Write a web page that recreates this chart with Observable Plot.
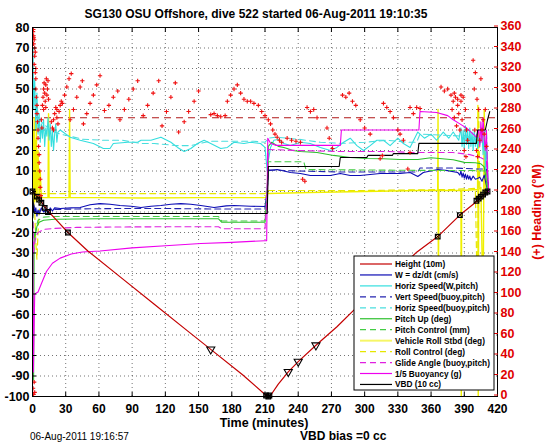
<!DOCTYPE html>
<html><head><meta charset="utf-8">
<script src="https://cdn.jsdelivr.net/npm/d3@7"></script>
<script src="https://cdn.jsdelivr.net/npm/@observablehq/plot@0.6"></script>
<style>
body{margin:0;background:#fff;}
#wrap{position:relative;width:546px;height:442px;overflow:hidden;font-family:"Liberation Sans",Arial,Helvetica,sans-serif;background:#fff;}
#wrap svg{display:block;}
#overlay{position:absolute;left:0;top:0;pointer-events:none;}
</style></head><body><div id="wrap"></div>
<script>
// ---------------- data ----------------
const titleText = "SG130 OSU Offshore, dive 522 started 06-Aug-2011 19:10:35";
const xLabel = "Time (minutes)";
const rightLabel = "(+) Heading (\u00B0M)";
const footLeft = "06-Aug-2011 19:16:57";
const footRight = "VBD bias =0 cc";
const xTicks = [0,30,60,90,120,150,180,210,240,270,300,330,360,390,420];
const yTicks = [-100,-90,-80,-70,-60,-50,-40,-30,-20,-10,0,10,20,30,40,50,60,70,80];
const headingTicks = [0,20,40,60,80,100,120,140,160,180,200,220,240,260,280,300,320,340,360];
const headingTarget = 272;

const legendLabels = ["Height (10m)","W = dz/dt (cm/s)","Horiz Speed(W,pitch)","Vert Speed(buoy,pitch)","Horiz Speed(buoy,pitch)","Pitch Up (deg)","Pitch Control (mm)","Vehicle Roll Stbd (deg)","Roll Control (deg)","Glide Angle (buoy,pitch)","1/5 Buoyancy (g)","VBD (10 cc)"];

// [time (min), value]
const height = [[0,0],[3,-1.5],[6,-3.5],[10,-6.5],[14,-9.5],[20,-13],[32,-20],[50,-29],[80,-42],[110,-55],[140,-68],[161,-77],[190,-89.5],[211,-99.5],[215,-99.5],[222,-94],[231,-88],[240,-83],[256,-75],[275,-66],[290,-58],[318,-44.5],[347,-29.6],[366,-22],[386,-11.5],[402,-4.5],[411,0]];
const heightSquares = [[0,0],[4,-2.5],[6,-4],[8,-5.5],[11,-8],[14,-10],[32,-20],[211,-99.5],[213,-100],[214,-99.5],[366,-22],[386,-11.5],[401,-4.5],[403,-3.5],[405,-2.5],[407,-1.5],[409,-0.5],[411,0]];
const heightTriangles = [[161,-77],[231,-88],[240,-83],[256,-75]];

const wSpeed = [[0,0],[0.5,-12],[1,-6],[2,-10],[3,-8],[4,-12],[5,-9],[6,-11],[8,-8],[10,-10],[12,-9],[14,-10.5],[16,-8],[18,-9.5],[20,-8],[25,-8.3],[35,-8],[43,-7.8],[52,-6.5],[61,-5.9],[70,-6.2],[79,-6.8],[89,-7.2],[98,-7.8],[107,-7.2],[116,-6.8],[125,-6.2],[134,-5.9],[143,-6.2],[152,-6.8],[164,-7.8],[175,-7.0],[182,-6.8],[197,-7.2],[210,-7.3],[212,0],[213,10.2],[221,10.7],[233,9.3],[242,8.8],[251,7.8],[260,7.8],[269,7.8],[278,8.8],[287,7.8],[296,7.8],[305,8.3],[314,8.8],[323,8.8],[332,8.8],[341,9.3],[348,7.3],[353,9.3],[366,10.7],[375,10.2],[384,9.3],[386,8],[387,10],[388,7],[389,9],[390,6.5],[391,8.5],[392,6],[393,8],[394,6],[395,7.5],[396,5.5],[398,7.5],[400,6],[402,6.3],[404,7],[406,5],[408,8],[410,3],[411,0.5]];
const horizW = [[0,35],[0.5,70],[1,40],[2,55],[3,30],[4,48],[5,28],[6,38],[7,24],[8,33],[9,26],[10,35],[11,22],[12,31],[13,27],[14,36],[15,25],[16,33],[17,22],[18,30],[19,20],[20,28],[21,33],[22,24],[23,29],[25,30],[34,26.5],[43,25],[55,23.4],[64,21],[70,21],[73,23.4],[86,24],[95,24],[98,25],[107,25],[116,26.5],[125,24],[131,21.5],[137,19.5],[143,21],[149,23.4],[155,25],[161,23.4],[170,21],[176,21.5],[182,24],[191,23.4],[197,24],[206,23.4],[210,21.5],[212,10],[213,15],[215,21.5],[218,25],[222,25.4],[227,23.4],[233,22.4],[242,24],[251,23.4],[260,21.5],[269,20],[275,21.5],[281,24],[287,26],[293,22.4],[299,20],[305,22.4],[311,25],[317,25],[323,22.4],[330,26],[335,23.4],[341,21.5],[348,29],[354,26],[360,28],[365,25],[371,29],[376,26],[380,29],[385,25],[387,31],[388,22],[389,30],[390,21],[391,32],[392,23],[393,30],[394,21],[395,31],[396,22],[397,29],[398,20],[399,30],[400,22],[401,28],[402,21],[403,26],[404,23],[405,25],[406,28],[407,18],[408,30],[409,10],[410,25],[411,5],[412,2]];
const vertBuoy = [[0,-5],[3,-10],[6,-9.5],[10,-9],[20,-8.8],[40,-8.5],[80,-8.3],[120,-8.3],[160,-8.5],[210,-8.5],[212,0],[213,10.5],[240,10],[280,9.5],[320,9.5],[348,9.5],[350,11.5],[380,11.5],[400,11],[410,11],[412,2]];
const horizBuoy = [[0,40],[3,45],[5,38],[8,34],[12,32],[16,30],[20,29],[25,28],[34,27],[45,25.5],[64,25],[81,25],[98,23.4],[110,23.4],[130,22.4],[143,22.4],[160,24.5],[180,24.5],[200,24.5],[210,24],[213,26],[220,26.5],[240,25.5],[260,24],[280,23.5],[300,24],[320,25],[340,24],[347,24],[350,28],[370,27.5],[390,27],[405,26],[410,30],[412,0]];
const pitchUp = [[0,-60],[0.5,-30],[1,-92],[1.5,-20],[2,-22],[3,-20],[4,-17],[6,-15],[10,-14],[20,-13.5],[60,-13.3],[120,-13.3],[168,-13.3],[171,-15],[210,-15],[212,0],[213,22],[216,24],[222,22],[227,21.5],[230,21],[235,20],[242,19.5],[257,19],[272,17.6],[287,16.6],[302,16.1],[317,16],[332,15.6],[348,15.6],[360,16.5],[380,15.5],[390,14.2],[400,14],[405,13.5],[408,12],[410,5],[411,0]];
const pitchCtl = [[0,-5],[1,-20],[2,-25],[3,-18],[5,-14],[10,-12.5],[20,-12.2],[60,-12.2],[120,-12.2],[168,-12.2],[171,-14.4],[210,-14.4],[212,0],[213,14.5],[245,14.5],[247,10.7],[300,10.5],[350,10.3],[400,10.2],[410,10],[411,2]];
const rollStbd = [[0,-3],[0.5,30],[1,-10],[1.5,36],[2,-5],[2.5,25],[3,-4],[3.5,33],[4,-5],[5,20],[6,-3],[7,10],[8,-3],[14,-3],[14.5,38],[15,-3],[33,-3],[33.5,40],[34,-3],[60,-3],[100,-3.2],[150,-3],[210,-3],[211,-2.5],[212,0],[213,-1],[250,-0.5],[300,0],[350,0.5],[366,0.5],[366.3,40],[366.6,-60],[367,0.5],[387,0.5],[387.3,-100],[387.6,0.5],[402,1],[402.3,42],[402.6,-100],[403,1],[405,2],[407,-60],[408,40],[409,2],[410,0]];
const rollCtl = [[0,-1],[2,-10],[3,-25],[4,-33],[5,-20],[6,-10],[8,-1],[210,-1],[212,0],[213,0.5],[300,0.5],[380,1],[400,1.5],[402,-60],[403,40],[404,1.5],[410,0]];
const glide = [[0,-10],[1,-30],[2,-25],[3,-22],[5,-20],[10,-18.5],[20,-18],[40,-17.5],[80,-17.3],[120,-17.2],[168,-17.2],[171,-18.2],[210,-18.2],[212,0],[213,20.5],[240,20],[280,19.5],[320,19.5],[348,19],[380,19],[395,18],[405,16.5],[410,15],[411,5]];
const buoyancy = [[0,-100],[0.3,-15],[0.8,-88],[2,-50],[5,-49],[8,-45],[12.6,-39],[18,-35],[25,-32.5],[35,-30.5],[45,-29.5],[61,-29],[90,-27.5],[120,-26.5],[152,-25.4],[180,-24.8],[210,-24],[211.5,-24],[212.5,26],[215,23.5],[220,22.5],[250,22.5],[278,22.5],[279,30],[300,30],[349,30],[350,39],[365,38.5],[375,37],[380,35],[386,33],[392,31],[398,28],[401,26.5],[403,30],[404,22],[405,34],[406,24],[407,36],[408,26],[409,20],[410,30],[411,10],[412,0]];
const vbd = [[0,0],[1,-10],[2,-10.7],[212,-10.7],[213,12.2],[277,12.2],[278,16.6],[302,16.6],[303,17.6],[325,17.6],[326,18.5],[348,18.5],[349,23.5],[401,23.5],[402,30],[409,30],[411,35],[413,39]];

// [time (min), heading (deg M)]
const heading = [[0.5,356],[1,352],[1,344],[1.5,348],[2,340],[2,332],[1.5,324],[2.5,316],[3,310],[3,300],[3.5,292],[4,284],[4,276],[4.5,268],[5,260],[5,252],[5.5,244],[6,236],[6,228],[6.5,220],[7,212],[7,204],[7.5,196],[0.5,8],[1,2],[1.5,14],[2,4],[0.8,358],[1.2,350],[2.5,336],[3,320],
[9,284],[9.5,292],[10,300],[10.5,306],[11,296],[11.5,288],[12,304],[12.5,310],[13,294],[13.5,300],[14,308],[14.5,290],[10,280],[12,282],[8,270],[8.5,262],
[18,262],[19,270],[20,276],[21,282],[22,272],[23,266],[24,278],[25,284],[19,260],[22,280],[17,268],[26,288],
[27,286],[29,294],[31,302],[33,310],[35,315],
[34,270],[37,280],[40,292],[43,302],[45,308],
[46,266],[49,276],[52,286],[55,294],[58,304],[61,313],
[65,279],[69,284],[73,292],[77,298],
[79,270],[83,280],[87,290],[91,300],[95,308],
[100,274],[104,284],[109,296],[114,308],
[117,264],[121,278],[125,292],[129,306],
[132,258],[137,268],[141,278],[146,288],[150,298],
[161,275],[164,276],[167,274],[170,273],[174,274],
[176,288],[179,294],[182,300],[185,304],
[188,296],[191,290],[194,288],[197,288],[200,286],[204,284],
[207,278],[210,274],[213,270],
[215,266],[217,260],[219,256],[221,253],[223,250],[225,248],
[230,252],[234,250],[238,249],[242,248],
[244,212],[246,210],
[248,282],[251,278],[254,280],[257,272],
[266,262],[268,252],[271,242],
[280,294],[283,292],[286,296],[289,288],[292,284],
[296,270],[300,262],[305,256],
[314,232],[316,235],
[317,286],[320,282],[323,278],[326,272],
[330,260],[332,256],[335,250],
[339,222],[341,238],
[341,282],[344,276],[347,282],[350,281],
[369,302],[372,298],[375,300],[378,294],[381,296],[384,290],[387,288],
[379,280],[380,288],[381,272],[382,292],[383,264],[384,284],[385,276],[386,260],[387,294],[388,270],
[389,292],[390,240],[391,280],[391.5,234],[392,260],[393,250],
[398,328],[399,300],[399.5,260],[400,316],[401,240],[401.5,290],[402,234],[403,280],[404,250],[405,310],[406,260],
[407,270],[408,256],[409,280],[410,244]];

// ---------------- styles ----------------
const FONT = '"Liberation Sans", Arial, Helvetica, sans-serif';
const RED = "#e00000";
const styles = [
  {data: height,   stroke: "#c40000", dash: null,  w: 1.2},
  {data: wSpeed,   stroke: "#0c0cb4", dash: null,  w: 1.1},
  {data: horizW,   stroke: "#33dede", dash: null,  w: 1.1},
  {data: vertBuoy, stroke: "#2424b0", dash: "6,4", w: 1.1},
  {data: horizBuoy,stroke: "#4adede", dash: "6,4", w: 1.1},
  {data: pitchUp,  stroke: "#2cc02c", dash: null,  w: 1.1},
  {data: pitchCtl, stroke: "#44cc44", dash: "6,4", w: 1.1},
  {data: rollStbd, stroke: "#f0f000", dash: null,  w: 1.4},
  {data: rollCtl,  stroke: "#e6e600", dash: "6,4", w: 1.2},
  {data: glide,    stroke: "#e020e0", dash: "6,4", w: 1.1},
  {data: buoyancy, stroke: "#ee00ee", dash: null,  w: 1.1},
  {data: vbd,      stroke: "#000000", dash: null,  w: 1.1}
];
const toY = h => h / 2 - 100;
const X = d => d[0], Y = d => d[1];

const marks = [
  Plot.gridX(xTicks.slice(1, -1), {stroke: "#000", strokeOpacity: 0.55, strokeDasharray: "1,3"}),
  Plot.gridY(yTicks.slice(1, -1), {stroke: "#000", strokeOpacity: 0.55, strokeDasharray: "1,3"}),
  Plot.ruleY([toY(headingTarget)], {stroke: "#b01818", strokeWidth: 1.1, strokeDasharray: "7,5"})
];
const order = [7, 8, 2, 4, 1, 3, 5, 6, 9, 10, 11, 0];
for (const i of order) {
  const s = styles[i];
  marks.push(Plot.line(s.data, {x: X, y: Y, stroke: s.stroke, strokeWidth: s.w, strokeDasharray: s.dash || undefined, clip: true}));
}
marks.push(
  Plot.dot(heightSquares, {x: X, y: Y, symbol: "square", r: 2.6, stroke: "#000", fill: "none", strokeWidth: 1.2}),
  Plot.dot(heightSquares, {x: X, y: Y, symbol: "times", r: 2.2, stroke: "#000", strokeWidth: 0.9}),
  Plot.dot(heightTriangles, {x: X, y: Y, symbol: "triangle", rotate: 180, r: 3, stroke: "#000", fill: "none", strokeWidth: 1.1}),
  Plot.dot(heading, {x: X, y: d => toY(d[1]), symbol: "plus", r: 1.5, stroke: "#f01010", strokeWidth: 1.1, clip: true}),
  Plot.frame({stroke: "#000", strokeWidth: 1}),
  Plot.axisX(xTicks, {anchor: "bottom", tickSize: -4, tickPadding: 12, label: null, fontSize: 12, fontWeight: "bold", fill: "#000", stroke: "#000"}),
  Plot.axisX(xTicks, {anchor: "top", tickSize: -4, tickFormat: () => "", label: null, stroke: "#000"}),
  Plot.axisY(yTicks, {anchor: "left", tickSize: -4, tickPadding: 7, label: null, tickFormat: d => String(d), fontSize: 12.5, fontWeight: "bold", fill: "#000", stroke: "#000"}),
  Plot.axisY(headingTicks.map(toY), {anchor: "right", tickSize: -4, tickPadding: 7, dy: -1.5, label: null, tickFormat: v => String(Math.round((v + 100) * 2)), fontSize: 12.5, fontWeight: "bold", fill: RED, stroke: RED})
);

const chart = Plot.plot({
  width: 546, height: 442,
  marginTop: 27, marginBottom: 46, marginLeft: 32, marginRight: 49,
  x: {domain: [0, 420]},
  y: {domain: [-100, 80]},
  style: {fontFamily: FONT, background: "#fff", overflow: "visible"},
  marks
});
const wrap = document.getElementById("wrap");
wrap.appendChild(chart);

// ---------------- overlay: titles, labels, legend ----------------
const ov = d3.select(wrap).append("svg").attr("id", "overlay").attr("width", 546).attr("height", 442)
  .style("font-family", FONT);
ov.append("text").attr("x", 256).attr("y", 18).attr("text-anchor", "middle")
  .attr("font-size", 12).attr("font-weight", "bold").text(titleText);
ov.append("text").attr("x", 264).attr("y", 427).attr("text-anchor", "middle")
  .attr("font-size", 12.5).attr("font-weight", "bold").text(xLabel);
ov.append("text").attr("x", 30).attr("y", 440).attr("font-size", 10).text(footLeft);
ov.append("text").attr("x", 300).attr("y", 439.5).attr("font-size", 12).attr("font-weight", "bold").text(footRight);
ov.append("text").attr("transform", "translate(541,212) rotate(-90)").attr("text-anchor", "middle")
  .attr("font-size", 12.5).attr("font-weight", "bold").attr("fill", RED).text(rightLabel);

const lg = ov.append("g").attr("transform", "translate(354,256)");
lg.append("rect").attr("width", 140).attr("height", 134).attr("fill", "#fff").attr("stroke", "#000").attr("stroke-width", 1);
legendLabels.forEach((lab, i) => {
  const s = styles[i];
  const yy = 8 + i * 10.95;
  lg.append("line").attr("x1", 6).attr("x2", 38).attr("y1", yy).attr("y2", yy)
    .attr("stroke", s.stroke).attr("stroke-width", i === 7 ? 2 : 1.2)
    .attr("stroke-opacity", i === 7 ? 0.6 : 1)
    .attr("stroke-dasharray", s.dash || null);
  lg.append("text").attr("x", 41).attr("y", yy + 3).attr("font-size", 8.3).attr("font-weight", "bold").text(lab);
});
</script>
</body></html>
